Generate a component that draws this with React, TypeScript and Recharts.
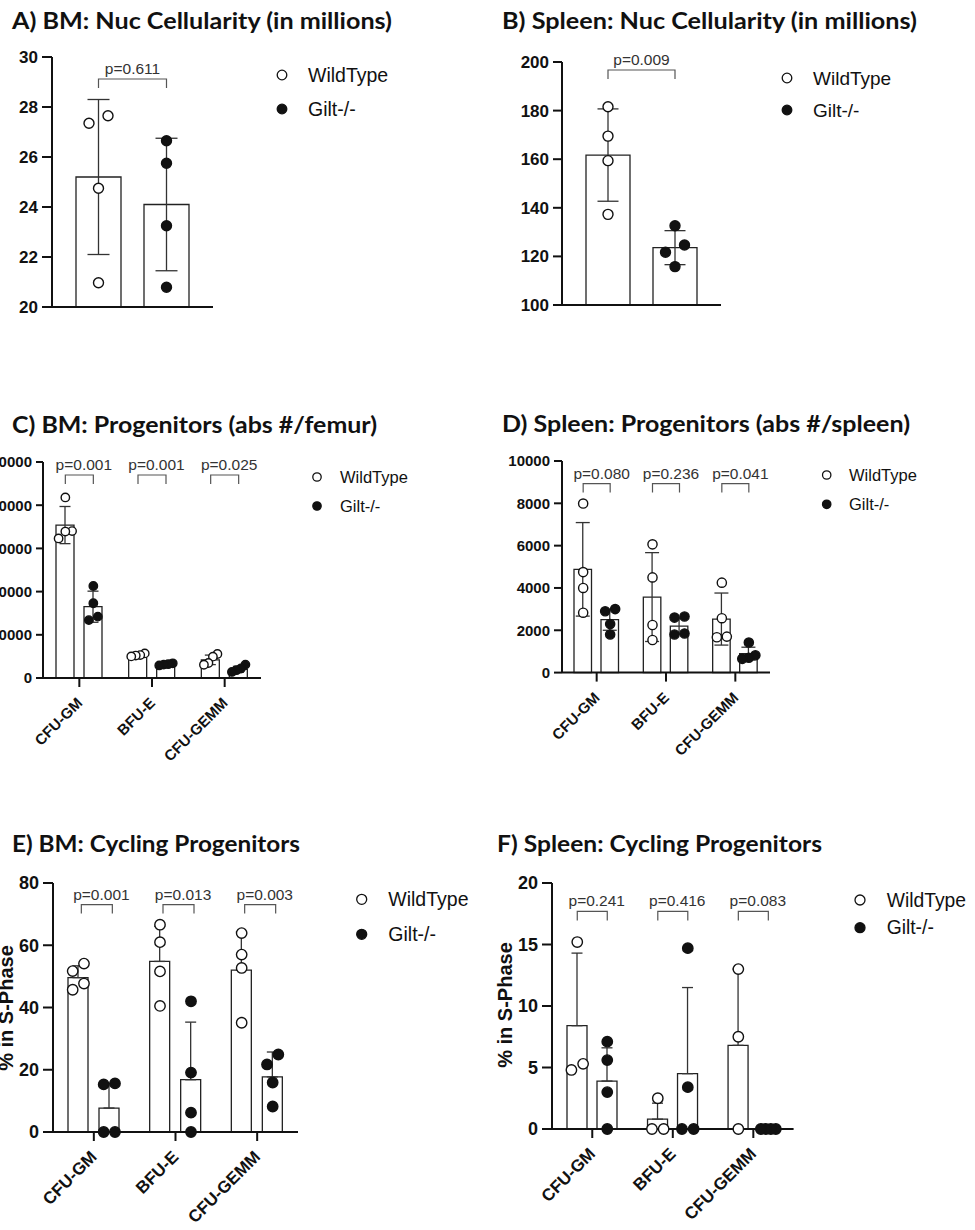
import React from "react";
import { Bar, ComposedChart, ErrorBar, Scatter, XAxis, YAxis } from "recharts";

const FONT = '"Liberation Sans", Arial, sans-serif';
const TITLE_FONT = 'Lato, "Open Sans", sans-serif';
const INK = "#111";

// ---------------------------------------------------------------- data
const GROUPS = ["WildType", "Gilt-/-"];
const PROGENITORS = ["CFU-GM", "BFU-E", "CFU-GEMM"];

// A) BM nucleated cellularity (millions)
const bmCellCats = ["cellularity"];
const bmCellWtMean = [25.2];
const bmCellWtSd = [3.1];
const bmCellKoMean = [24.1];
const bmCellKoSd = [2.65];
const bmCellWtPts = [[27.35, 27.65, 24.75, 20.97]];
const bmCellKoPts = [[26.65, 25.75, 23.25, 20.79]];
const bmCellP = ["p=0.611"];
const bmCellTicks = [20, 22, 24, 26, 28, 30];

// B) Spleen nucleated cellularity (millions)
const spCellCats = ["cellularity"];
const spCellWtMean = [161.7];
const spCellWtSd = [19];
const spCellKoMean = [123.6];
const spCellKoSd = [7];
const spCellWtPts = [[181.6, 169.5, 159.4, 137.3]];
const spCellKoPts = [[132.6, 124.7, 121.7, 115.8]];
const spCellP = ["p=0.009"];
const spCellTicks = [100, 120, 140, 160, 180, 200];

// C) BM progenitors (abs #/femur)
const bmProgWtMean = [35400, 5300, 4200];
const bmProgWtSd = [4300, 300, 1100];
const bmProgKoMean = [16500, 3100, 2000];
const bmProgKoSd = [3600, 200, 700];
const bmProgWtPts = [
  [41800, 34000, 33900, 32300],
  [5700, 5300, 5200, 5000],
  [5560, 4940, 3470, 3070],
];
const bmProgKoPts = [
  [21300, 17300, 14200, 13400],
  [3400, 3200, 3100, 2900],
  [3100, 2200, 1800, 1400],
];
const bmProgP = ["p=0.001", "p=0.001", "p=0.025"];
const bmProgTicks = [0, 10000, 20000, 30000, 40000, 50000];

// D) Spleen progenitors (abs #/spleen)
const spProgWtMean = [4880, 3570, 2530];
const spProgWtSd = [2210, 2100, 1230];
const spProgKoMean = [2500, 2200, 900];
const spProgKoSd = [500, 380, 300];
const spProgWtPts = [
  [7990, 4750, 4000, 2830],
  [6060, 4500, 2250, 1540],
  [4250, 2570, 1700, 1670],
];
const spProgKoPts = [
  [3000, 2900, 2300, 1800],
  [2650, 2600, 1850, 1800],
  [1420, 820, 700, 650],
];
const spProgP = ["p=0.080", "p=0.236", "p=0.041"];
const spProgTicks = [0, 2000, 4000, 6000, 8000, 10000];

// E) BM cycling progenitors (% in S-phase)
const bmCycWtMean = [49.6, 54.8, 52.0];
const bmCycWtSd = [3.8, 11.3, 12.3];
const bmCycKoMean = [7.7, 16.8, 17.7];
const bmCycKoSd = [7.9, 18.5, 8.0];
const bmCycWtPts = [
  [54.1, 51.7, 47.7, 45.7],
  [66.6, 61.0, 51.6, 40.5],
  [63.9, 57.0, 52.7, 35.1],
];
const bmCycKoPts = [
  [15.6, 15.3, 0, 0],
  [42.0, 19.1, 6.2, 0],
  [24.9, 21.7, 15.9, 8.2],
];
const bmCycP = ["p=0.001", "p=0.013", "p=0.003"];
const bmCycTicks = [0, 20, 40, 60, 80];

// F) Spleen cycling progenitors (% in S-phase)
const spCycWtMean = [8.4, 0.8, 6.8];
const spCycWtSd = [5.9, 1.3, 6.2];
const spCycKoMean = [3.9, 4.5, 0];
const spCycKoSd = [2.7, 7.0, 0];
const spCycWtPts = [
  [15.2, 5.3, 4.8],
  [2.5, 0, 0],
  [13.0, 7.5, 0],
];
const spCycKoPts = [
  [7.1, 5.6, 3.0, 0],
  [14.7, 3.4, 0, 0],
  [0, 0, 0, 0],
];
const spCycP = ["p=0.241", "p=0.416", "p=0.083"];
const spCycTicks = [0, 5, 10, 15, 20];

// ---------------------------------------------------------------- helpers

// Spread points that would overlap into a small horizontal row (pixel offsets).
function swarm(values: number[], pxPerUnit: number, diam: number, step: number, maxSpread: number) {
  const order = values.map((_, i) => i).sort((a, b) => values[b] - values[a]);
  const offs = values.map(() => 0);
  let row: number[] = [];
  const flush = () => {
    const n = row.length;
    const s = n > 1 ? Math.min(step, maxSpread / (n - 1)) : 0;
    row.forEach((idx, k) => {
      offs[idx] = ((n - 1) / 2 - k) * s;
    });
    row = [];
  };
  for (const idx of order) {
    if (row.length && (values[row[row.length - 1]] - values[idx]) * pxPerUnit >= diam) flush();
    row.push(idx);
  }
  flush();
  return offs;
}

type Spec = {
  cats: string[];
  wtMean: number[];
  wtSd: number[];
  koMean: number[];
  koSd: number[];
  wtPts: number[][];
  koPts: number[][];
  pvals: string[];
  ticks: number[];
  oneSided?: boolean;
  px: number;
  py: number;
  pw: number;
  ph: number;
  barSize: number;
  barGap: number;
  r: number;
  step: number;
  capW: number;
  tickSize: number;
  tickFont: number;
  catFont?: number;
  bracketTop: number;
  bracketShift?: number;
  pShift?: number;
};

function Panel({ spec }: { spec: Spec }) {
  const {
    cats, wtMean, wtSd, koMean, koSd, wtPts, koPts, pvals, ticks, oneSided,
    px, py, pw, ph, barSize, barGap, r, step, capW, tickSize, tickFont, catFont,
    bracketTop, bracketShift = 0, pShift = 0,
  } = spec;
  const YW = 70;
  const MT = 26;
  const MR = 12;
  const XH = catFont ? 110 : 16;
  const n = cats.length;
  const domain = [ticks[0], ticks[ticks.length - 1]];
  const pxPerUnit = ph / (domain[1] - domain[0]);
  const band = pw / n;
  const half = (barSize + barGap) / 2;

  const rows = cats.map((cat, i) => ({
    cat,
    wt: wtMean[i],
    ko: koMean[i],
    wtErr: oneSided ? [0, wtSd[i]] : wtSd[i],
    koErr: oneSided ? [0, koSd[i]] : koSd[i],
  }));

  const dots = (pts: number[][], side: number) =>
    pts.flatMap((vals, i) => {
      const offs = swarm(vals, pxPerUnit, 2 * r + 0.5, step, barSize * 0.75);
      return vals.map((v, k) => ({ x: i + 0.5 + (side * half + offs[k]) / band, y: v }));
    });

  const brackets = pvals.map((p, i) => ({ x: i + 0.5, y: domain[1], p }));

  const bracketShape = (props: any) => {
    const { cx, cy, payload } = props;
    const top = cy + bracketTop;
    const mid = cx + bracketShift;
    return (
      <g>
        <path
          d={`M${mid - half},${top + 9}V${top}H${mid + half}V${top + 9}`}
          fill="none"
          stroke="#555"
          strokeWidth={1.2}
        />
        <text x={mid + pShift} y={top - 5} textAnchor="middle" fontSize={15.5} fill="#333" fontFamily={FONT}>
          {payload.p}
        </text>
      </g>
    );
  };

  const dotShape = (filled: boolean) => (props: any) => (
    <circle cx={props.cx} cy={props.cy} r={r} fill={filled ? INK : "#fff"} stroke={INK} strokeWidth={1.4} />
  );

  const angleTick = (props: any) => {
    const { x, y, payload } = props;
    const ax = x + 4;
    const ay = y + 15;
    return (
      <text
        x={ax}
        y={ay}
        transform={`rotate(-45 ${ax} ${ay})`}
        textAnchor="end"
        fontSize={catFont}
        fontWeight={700}
        fontFamily={FONT}
        fill={INK}
      >
        {payload.value}
      </text>
    );
  };

  const axisStroke = { stroke: INK, strokeWidth: 2 };

  return (
    <div style={{ position: "absolute", left: px - YW, top: py - MT }}>
      <ComposedChart
        width={YW + pw + MR}
        height={MT + ph + XH}
        data={rows}
        barGap={barGap}
        margin={{ top: MT, right: MR, bottom: 0, left: 0 }}
      >
        <XAxis
          xAxisId="cat"
          dataKey="cat"
          height={XH}
          axisLine={axisStroke}
          tickLine={catFont ? axisStroke : false}
          tickSize={9}
          tick={catFont ? angleTick : false}
          interval={0}
        />
        <XAxis xAxisId="num" dataKey="x" type="number" domain={[0, n]} hide />
        <YAxis
          width={YW}
          domain={domain}
          ticks={ticks}
          interval={0}
          axisLine={axisStroke}
          tickLine={axisStroke}
          tickSize={tickSize}
          tickMargin={4}
          tick={{ fill: INK, fontSize: tickFont, fontWeight: 700, fontFamily: FONT }}
        />
        <Bar xAxisId="cat" dataKey="wt" barSize={barSize} fill="#fff" stroke="#222" strokeWidth={1.3} isAnimationActive={false}>
          <ErrorBar dataKey="wtErr" direction="y" width={capW} stroke="#333" strokeWidth={1.3} />
        </Bar>
        <Bar xAxisId="cat" dataKey="ko" barSize={barSize} fill="#fff" stroke="#222" strokeWidth={1.3} isAnimationActive={false}>
          <ErrorBar dataKey="koErr" direction="y" width={capW} stroke="#333" strokeWidth={1.3} />
        </Bar>
        <Scatter xAxisId="num" data={brackets} dataKey="y" shape={bracketShape} isAnimationActive={false} />
        <Scatter xAxisId="num" data={dots(wtPts, -1)} dataKey="y" shape={dotShape(false)} isAnimationActive={false} />
        <Scatter xAxisId="num" data={dots(koPts, 1)} dataKey="y" shape={dotShape(true)} isAnimationActive={false} />
      </ComposedChart>
    </div>
  );
}

// ---------------------------------------------------------------- panels
const panels: Spec[] = [
  {
    cats: bmCellCats, wtMean: bmCellWtMean, wtSd: bmCellWtSd, koMean: bmCellKoMean, koSd: bmCellKoSd,
    wtPts: bmCellWtPts, koPts: bmCellKoPts, pvals: bmCellP, ticks: bmCellTicks,
    px: 52, py: 57, pw: 161, ph: 250, barSize: 45, barGap: 23, r: 5, step: 19, capW: 11,
    tickSize: 10, tickFont: 17, bracketTop: 22,
  },
  {
    cats: spCellCats, wtMean: spCellWtMean, wtSd: spCellWtSd, koMean: spCellKoMean, koSd: spCellKoSd,
    wtPts: spCellWtPts, koPts: spCellKoPts, pvals: spCellP, ticks: spCellTicks,
    px: 562, py: 62, pw: 159, ph: 243, barSize: 44, barGap: 23, r: 5, step: 19, capW: 10.5,
    tickSize: 9, tickFont: 17, bracketTop: 8,
  },
  {
    cats: PROGENITORS, wtMean: bmProgWtMean, wtSd: bmProgWtSd, koMean: bmProgKoMean, koSd: bmProgKoSd,
    wtPts: bmProgWtPts, koPts: bmProgKoPts, pvals: bmProgP, ticks: bmProgTicks,
    px: 43, py: 462, pw: 218, ph: 216, barSize: 18, barGap: 10, r: 4.2, step: 9, capW: 5.5,
    tickSize: 7, tickFont: 15, catFont: 15, bracketTop: 13, pShift: 4.5,
  },
  {
    cats: PROGENITORS, wtMean: spProgWtMean, wtSd: spProgWtSd, koMean: spProgKoMean, koSd: spProgKoSd,
    wtPts: spProgWtPts, koPts: spProgKoPts, pvals: spProgP, ticks: spProgTicks,
    px: 562, py: 460.7, pw: 208, ph: 211.6, barSize: 17.5, barGap: 9.5, r: 4.6, step: 10, capW: 7,
    tickSize: 8, tickFont: 15, catFont: 15, bracketTop: 22.6, pShift: 5,
  },
  {
    cats: PROGENITORS, wtMean: bmCycWtMean, wtSd: bmCycWtSd, koMean: bmCycKoMean, koSd: bmCycKoSd,
    wtPts: bmCycWtPts, koPts: bmCycKoPts, pvals: bmCycP, ticks: bmCycTicks, oneSided: true,
    px: 53, py: 882.7, pw: 245, ph: 249, barSize: 20, barGap: 11, r: 5.2, step: 11.3, capW: 5.5,
    tickSize: 10, tickFont: 18, catFont: 17, bracketTop: 21.6, bracketShift: 3, pShift: 4.6,
  },
  {
    cats: PROGENITORS, wtMean: spCycWtMean, wtSd: spCycWtSd, koMean: spCycKoMean, koSd: spCycKoSd,
    wtPts: spCycWtPts, koPts: spCycKoPts, pvals: spCycP, ticks: spCycTicks, oneSided: true,
    px: 551.7, py: 883.3, pw: 241.6, ph: 246, barSize: 20, barGap: 10, r: 5.2, step: 11.7, capW: 5.5,
    tickSize: 10, tickFont: 18, catFont: 17, bracketTop: 28.4, pShift: 4.5,
  },
];

const titles = [
  { text: "A) BM: Nuc Cellularity (in millions)", x: 12, y: 28.5, len: 380 },
  { text: "B) Spleen: Nuc Cellularity (in millions)", x: 502, y: 28.5, len: 415 },
  { text: "C) BM: Progenitors (abs #/femur)", x: 12, y: 432.5, len: 365 },
  { text: "D) Spleen: Progenitors (abs #/spleen)", x: 502, y: 431.5, len: 408 },
  { text: "E) BM: Cycling Progenitors", x: 12, y: 851.5, len: 288 },
  { text: "F) Spleen: Cycling Progenitors", x: 497, y: 851.5, len: 325 },
];

const legends = [
  { x: 282, y: 75, gap: 34, tx: 308, font: 19.5, r: 4.8 },
  { x: 787, y: 78, gap: 32, tx: 813, font: 19, r: 4.8 },
  { x: 317, y: 477, gap: 29, tx: 340, font: 16.5, r: 4.2 },
  { x: 826.7, y: 475, gap: 29.3, tx: 849, font: 16.5, r: 4.2 },
  { x: 361.7, y: 899.3, gap: 35, tx: 388.3, font: 19.5, r: 5 },
  { x: 860, y: 900, gap: 27.7, tx: 886.7, font: 19.3, r: 5 },
];

const yLabels = [
  { text: "% in S-Phase", x: 13, y: 1008 },
  { text: "% in S-Phase", x: 511.5, y: 1005 },
];

export default function App() {
  return (
    <div style={{ position: "absolute", left: 0, top: 0, width: 975, height: 1230, background: "#fff", overflow: "hidden" }}>
      {panels.map((spec, i) => (
        <Panel key={i} spec={spec} />
      ))}
      <svg width={975} height={1230} style={{ position: "absolute", left: 0, top: 0, pointerEvents: "none" }}>
        {titles.map((t) => (
          <text
            key={t.text}
            x={t.x}
            y={t.y}
            textLength={t.len}
            lengthAdjust="spacingAndGlyphs"
            fontFamily={TITLE_FONT}
            fontWeight={700}
            fontSize={23}
            fill={INK}
          >
            {t.text}
          </text>
        ))}
        {legends.map((l, i) => (
          <g key={i} fontFamily={FONT} fontSize={l.font} fill={INK}>
            {GROUPS.map((g, k) => (
              <g key={g}>
                <circle cx={l.x} cy={l.y + k * l.gap} r={l.r} fill={k ? INK : "#fff"} stroke={INK} strokeWidth={1.3} />
                <text x={l.tx} y={l.y + k * l.gap} dy="0.35em">
                  {g}
                </text>
              </g>
            ))}
          </g>
        ))}
        {yLabels.map((l, i) => (
          <text
            key={i}
            transform={`translate(${l.x},${l.y}) rotate(-90)`}
            textAnchor="middle"
            fontFamily={FONT}
            fontWeight={700}
            fontSize={20}
            fill={INK}
          >
            {l.text}
          </text>
        ))}
      </svg>
    </div>
  );
}
